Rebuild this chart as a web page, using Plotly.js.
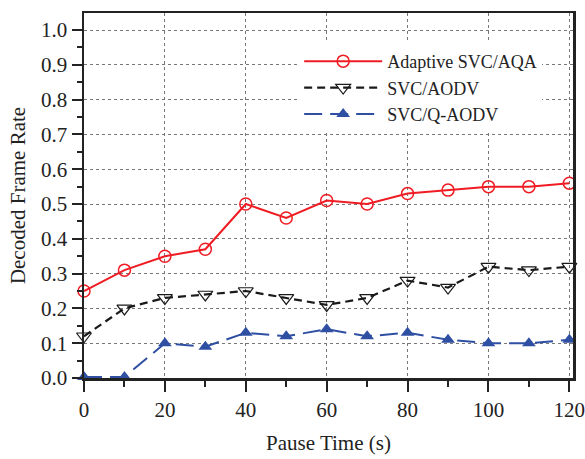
<!DOCTYPE html>
<html><head><meta charset="utf-8">
<script src="https://cdn.plot.ly/plotly-3.0.1.min.js"></script>
<style>body{margin:0;background:#fff}#c{width:585px;height:459px}</style>
</head><body><div id="c"></div>
<script>
const pauseTime = [0,10,20,30,40,50,60,70,80,90,100,110,120];
const adaptiveAQA = [0.25,0.31,0.35,0.37,0.50,0.46,0.51,0.50,0.53,0.54,0.55,0.55,0.56];
const svcAODV = [0.12,0.20,0.23,0.24,0.25,0.23,0.21,0.23,0.28,0.26,0.32,0.31,0.32];
const svcQAODV = [0.003,0.003,0.10,0.09,0.13,0.12,0.14,0.12,0.13,0.11,0.10,0.10,0.11];
const seriesNames = ["Adaptive SVC/AQA","SVC/AODV","SVC/Q-AODV"];
const yTicks = [0,0.1,0.2,0.3,0.4,0.5,0.6,0.7,0.8,0.9,1.0];
const yTickText = ["0.0","0.1","0.2","0.3","0.4","0.5","0.6","0.7","0.8","0.9","1.0"];
const xTicks = [0,20,40,60,80,100,120];

const font = "'Liberation Serif', 'Times New Roman', serif";
const traces = [
 {x:pauseTime,y:adaptiveAQA,name:seriesNames[0],mode:"lines+markers",cliponaxis:false,
  line:{color:"#f01c24",width:2},marker:{symbol:"circle-open",size:12,color:"#f01c24",line:{width:1.5}}},
 {x:pauseTime,y:svcAODV,name:seriesNames[1],mode:"lines+markers",cliponaxis:false,
  line:{color:"#1a1a1a",width:2.2,dash:"8px,5px"},marker:{symbol:"triangle-down-open",size:13,color:"#1a1a1a",line:{width:1.2}}},
 {x:pauseTime,y:svcQAODV,name:seriesNames[2],mode:"lines+markers",cliponaxis:false,
  line:{color:"#2f4fa3",width:2,dash:"18px,8px"},marker:{symbol:"triangle-up",size:12,color:"#2f4fa3"}}
];
const layout = {
 width:585,height:459,margin:{l:84,r:12,t:13,b:81},
 paper_bgcolor:"#fff",plot_bgcolor:"#fff",
 font:{family:font,size:21,color:"#222"},
 showlegend:true,
 legend:{x:0.44,y:0.918,xanchor:"left",yanchor:"top",bgcolor:"#fff",borderwidth:0,
   font:{family:font,size:18,color:"#222"},itemwidth:78,tracegroupgap:0},
 xaxis:{range:[0,120.9],tickvals:xTicks,ticks:"outside",ticklen:11,tickwidth:2,tickcolor:"#222",
   ticklabeloverflow:"allow",
   showline:true,linewidth:2.5,linecolor:"#222",mirror:true,zeroline:false,
   showgrid:true,gridcolor:"#777",griddash:"dot",gridwidth:1,
   minor:{dtick:10,ticks:"outside",ticklen:6,tickwidth:2,tickcolor:"#222",showgrid:false},
   title:{text:"Pause Time (s)",font:{family:font,size:21},standoff:15},tickfont:{family:font,size:21}},
 yaxis:{range:[0,1.049],tickvals:yTicks,ticktext:yTickText,ticks:"outside",ticklen:10,tickwidth:2,tickcolor:"#222",
   showline:true,linewidth:2.5,linecolor:"#222",mirror:true,zeroline:false,
   showgrid:true,gridcolor:"#777",griddash:"dot",gridwidth:1,
   minor:{dtick:0.05,ticks:"outside",ticklen:5,tickwidth:2,tickcolor:"#222",showgrid:false},
   title:{text:"Decoded Frame Rate",font:{family:font,size:21},standoff:10},tickfont:{family:font,size:21}}
};
Plotly.newPlot("c",traces,layout,{displayModeBar:false,staticPlot:true});
</script></body></html>
